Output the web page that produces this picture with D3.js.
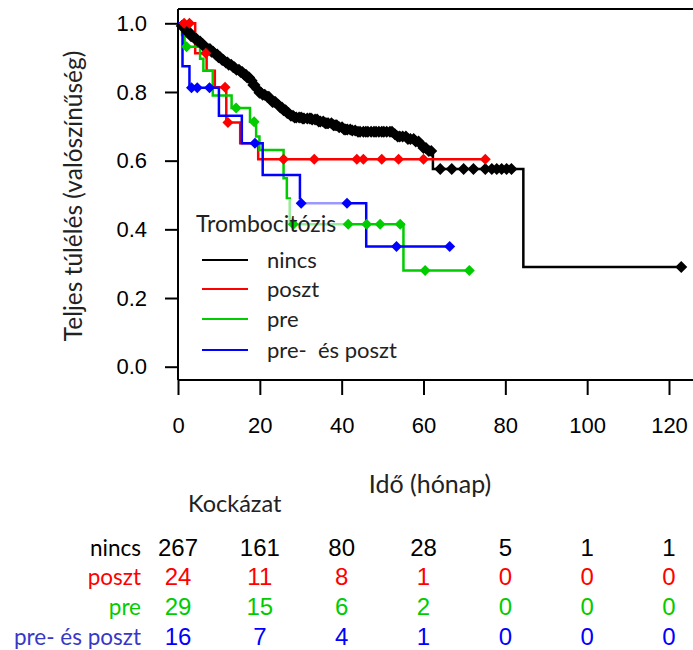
<!DOCTYPE html>
<html>
<head>
<meta charset="utf-8">
<script src="https://cdn.jsdelivr.net/npm/d3@7"></script>
<style>
  body { margin: 0; background: #fff; }
  svg { display: block; }
  .sans { font-family: Lato, "Open Sans", sans-serif; }
  .num { font-family: "Liberation Sans", Arial, sans-serif; }
</style>
</head>
<body>
<svg id="chart" width="693" height="650"></svg>
<script>
// Kaplan–Meier estimates by thrombocytosis group: [month, survival probability]
const nincsSteps = [
  [0, 1.0], [0.8, 0.992], [1.5, 0.985], [2.2, 0.974], [3.0, 0.962], [3.8, 0.955],
  [4.6, 0.947], [5.5, 0.94], [6.3, 0.932], [7.2, 0.925], [8.0, 0.917], [8.9, 0.909],
  [9.8, 0.901], [10.6, 0.893], [11.5, 0.886], [12.4, 0.879], [13.3, 0.872], [14.2, 0.865],
  [15.0, 0.858], [15.9, 0.85], [16.8, 0.842], [17.5, 0.833], [18.2, 0.82], [18.9, 0.808],
  [19.6, 0.798], [20.5, 0.792], [21.4, 0.786], [22.3, 0.779], [23.1, 0.771], [24.0, 0.763],
  [24.8, 0.755], [25.6, 0.747], [26.4, 0.739], [27.2, 0.731], [28.5, 0.726], [30.5, 0.723],
  [32.8, 0.72], [34.2, 0.714], [36.0, 0.709], [37.8, 0.703], [39.2, 0.697], [40.6, 0.691],
  [42.5, 0.688], [44.0, 0.684], [52.5, 0.677], [53.5, 0.67], [56.0, 0.663], [58.0, 0.656],
  [59.2, 0.646], [60.0, 0.637], [61.2, 0.628], [62.3, 0.576], [84.4, 0.29]
];
const nincsCensor = [
  0.9, 1.4, 1.7, 2.3, 2.8, 3.2, 3.5, 4.1, 4.5, 4.9, 5.4, 6.0, 6.4, 6.7, 7.3, 7.8, 8.2,
  8.6, 9.2, 9.6, 9.9, 10.3, 10.8, 11.1, 11.7, 12.1, 12.4, 13.0, 13.5, 13.8, 14.3, 14.9,
  15.3, 15.7, 16.2, 16.6, 16.9, 17.4, 18.0, 18.4, 18.7, 19.4, 19.9, 20.3, 20.7, 21.2,
  21.8, 22.2, 22.6, 23.1, 23.5, 23.8, 24.5, 25.0, 25.4, 25.8, 26.3, 26.7, 27.0, 27.6,
  28.1, 28.5, 28.9, 29.6, 30.1, 30.5, 30.8, 31.6, 32.2, 32.5, 32.8, 33.5, 34.0, 34.4,
  34.8, 35.5, 36.0, 36.4, 36.7, 37.5, 38.0, 38.4, 38.8, 39.4, 40.1, 40.6, 41.0, 41.4,
  42.1, 42.6, 43.3, 44.0, 44.5, 45.3, 45.9, 46.4, 47.2, 47.9, 48.4, 49.1, 49.8, 50.3,
  51.0, 51.8, 52.3, 53.0, 53.7, 54.2, 54.9, 55.7, 56.2, 56.8, 57.6, 58.1, 58.8, 59.5,
  60.0, 60.6, 61.3, 61.9,
  64.1, 66.9, 69.8, 72.2, 75.1, 76.7, 77.9, 79.1, 80.3, 81.5, 123.0
];
const nincsEnd = 123.0;

const posztSteps = [
  [0, 1.0], [4.2, 0.913], [7.0, 0.862], [9.0, 0.814], [11.8, 0.711], [15.2, 0.651], [19.6, 0.604]
];
const posztCensor = [1.5, 2.8, 6.8, 11.5, 12.2, 25.8, 33.3, 43.7, 45.3, 49.8, 53.9, 60.0, 75.1];
const posztEnd = 75.1;

const preSteps = [
  [0, 1.0], [1.0, 0.966], [1.6, 0.932], [5.4, 0.897], [6.2, 0.862], [8.5, 0.79],
  [13.1, 0.753], [17.6, 0.713], [19.1, 0.67], [19.9, 0.631], [25.8, 0.549],
  [26.6, 0.49], [27.3, 0.415], [55.1, 0.28]
];
const preCensor = [2.1, 14.2, 18.6, 28.2, 41.6, 46.1, 49.4, 54.3, 60.4, 71.2];
const preEnd = 71.2;

const prePosztSteps = [
  [0, 1.0], [1.1, 0.875], [2.8, 0.8125], [10.0, 0.731], [15.6, 0.651],
  [20.7, 0.558], [29.8, 0.476], [46.0, 0.35]
];
const prePosztCensor = [3.3, 4.7, 7.7, 18.8, 30.1, 41.3, 53.4, 66.4];
const prePosztEnd = 66.4;

const groupNames = ["nincs", "poszt", "pre", "pre- és poszt"];
const legendLabels = ["nincs", "poszt", "pre", "pre-  és poszt"];
const groupColors = ["#000000", "#ff0000", "#00cc00", "#0000ff"];
const labelColors = ["#000000", "#ff0000", "#00cc00", "#3737c8"];

const xTicks = [0, 20, 40, 60, 80, 100, 120];
const yTicks = [0.0, 0.2, 0.4, 0.6, 0.8, 1.0];

// Numbers at risk
const riskTimes = [0, 20, 40, 60, 80, 100, 120];
const riskNincs = [267, 161, 80, 28, 5, 1, 1];
const riskPoszt = [24, 11, 8, 1, 0, 0, 0];
const riskPre = [29, 15, 6, 2, 0, 0, 0];
const riskPrePoszt = [16, 7, 4, 1, 0, 0, 0];

const series = [
  { steps: nincsSteps, censor: nincsCensor, end: nincsEnd, r: 6 },
  { steps: posztSteps, censor: posztCensor, end: posztEnd, r: 5.5 },
  { steps: preSteps, censor: preCensor, end: preEnd, r: 5.5 },
  { steps: prePosztSteps, censor: prePosztCensor, end: prePosztEnd, r: 5.5 }
];
const riskRows = [riskNincs, riskPoszt, riskPre, riskPrePoszt];

const svg = d3.select("#chart");
const x = d3.scaleLinear().domain([0, 120]).range([178, 669]);
const y = d3.scaleLinear().domain([0, 1]).range([366.7, 23.3]);
const plotTop = 9, plotBottom = 380, plotRight = 700;

// survival value in effect at time t
function survivalAt(steps, t) {
  let s = steps[0][1];
  for (const [tt, v] of steps) { if (tt <= t) s = v; else break; }
  return s;
}

// frame
const frame = svg.append("g").attr("stroke", "#000").attr("stroke-width", 2).attr("fill", "none");
frame.append("line").attr("x1", x(0)).attr("x2", plotRight).attr("y1", plotTop).attr("y2", plotTop);
frame.append("line").attr("x1", x(0)).attr("x2", x(0)).attr("y1", plotTop).attr("y2", plotBottom);
frame.append("line").attr("x1", x(0)).attr("x2", plotRight).attr("y1", plotBottom).attr("y2", plotBottom);

// y axis
const yAxis = svg.append("g").attr("transform", `translate(${x(0)},0)`)
  .call(d3.axisLeft(y).tickValues(yTicks).tickFormat(d3.format(".1f")).tickSize(13).tickPadding(18));
yAxis.select(".domain").remove();
yAxis.selectAll("line").attr("stroke-width", 2);
yAxis.selectAll("text").attr("class", "num").attr("font-size", 22).attr("fill", "#000");

// x axis
const xAxis = svg.append("g").attr("transform", `translate(0,${plotBottom})`)
  .call(d3.axisBottom(x).tickValues(xTicks).tickFormat(d3.format("d")).tickSize(15).tickPadding(22));
xAxis.select(".domain").remove();
xAxis.selectAll("line").attr("stroke-width", 2);
xAxis.selectAll("text").attr("class", "num").attr("font-size", 22).attr("fill", "#000");

// survival curves
const line = d3.line().x(d => x(d[0])).y(d => y(d[1])).curve(d3.curveStepAfter);
series.forEach((s, i) => {
  const pts = s.steps.concat([[s.end, s.steps[s.steps.length - 1][1]]]);
  svg.append("path").datum(pts)
    .attr("fill", "none").attr("stroke", groupColors[i]).attr("stroke-width", 2.5)
    .attr("d", line);
});

// translucent legend panel
svg.append("rect").attr("x", 180).attr("y", 199).attr("width", 167).attr("height", 175)
  .attr("fill", "#fff").attr("fill-opacity", 0.6);

// censoring marks
series.forEach((s, i) => {
  svg.append("g").selectAll("path").data(s.censor).join("path")
    .attr("transform", t => `translate(${x(t)},${y(survivalAt(s.steps, t))})`)
    .attr("d", `M0,${-s.r}L${s.r},0L0,${s.r}L${-s.r},0Z`)
    .attr("fill", groupColors[i]);
});

// legend
const legend = svg.append("g").attr("class", "sans");
legend.append("text").attr("x", 196).attr("y", 224).attr("dy", "0.35em")
  .attr("font-size", 23).attr("fill", "#222").text("Trombocitózis");
const legendRowsY = [260, 289, 319, 350];
legendLabels.forEach((lab, i) => {
  legend.append("line").attr("x1", 202).attr("x2", 248)
    .attr("y1", legendRowsY[i]).attr("y2", legendRowsY[i])
    .attr("stroke", groupColors[i]).attr("stroke-width", 2);
  legend.append("text").attr("x", 267).attr("y", legendRowsY[i]).attr("dy", "0.35em")
    .attr("font-size", 22).attr("fill", "#222").style("white-space", "pre").text(lab);
});

// axis titles
svg.append("text").attr("class", "sans").attr("font-size", 24.5).attr("fill", "#222")
  .attr("text-anchor", "middle")
  .attr("transform", "translate(73,196) rotate(-90)").attr("dy", "0.35em")
  .text("Teljes túlélés (valószínűség)");
svg.append("text").attr("class", "sans").attr("font-size", 25).attr("fill", "#222")
  .attr("text-anchor", "middle").attr("x", 430).attr("y", 484).attr("dy", "0.35em")
  .text("Idő (hónap)");

// numbers at risk table
svg.append("text").attr("class", "sans").attr("font-size", 23.5).attr("fill", "#222")
  .attr("x", 188).attr("y", 504).attr("dy", "0.35em").text("Kockázat");
const rowY = [548, 577, 607, 637];
groupNames.forEach((g, i) => {
  svg.append("text").attr("class", "sans").attr("font-size", 22.5).attr("fill", labelColors[i])
    .attr("text-anchor", "end").attr("x", 141).attr("y", rowY[i]).attr("dy", "0.35em").text(g);
  svg.append("g").selectAll("text").data(riskRows[i]).join("text")
    .attr("class", "num").attr("font-size", 24).attr("fill", groupColors[i])
    .attr("text-anchor", "middle")
    .attr("x", (d, j) => x(riskTimes[j])).attr("y", rowY[i]).attr("dy", "0.35em")
    .text(d => d);
});
</script>
</body>
</html>
